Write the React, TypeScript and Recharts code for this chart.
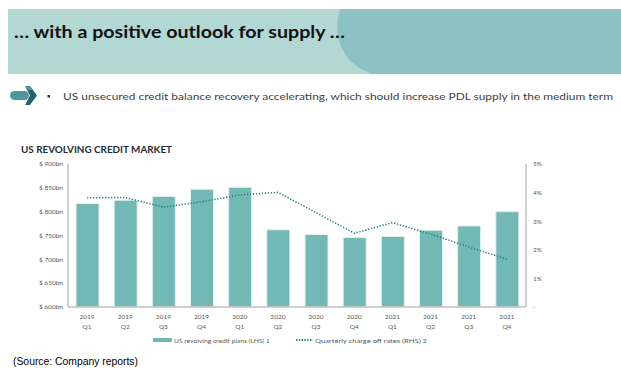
import React from 'react';
import { ComposedChart, Bar, Line, XAxis, YAxis } from 'recharts';

const years = ['2019', '2019', '2019', '2019', '2020', '2020', '2020', '2020', '2021', '2021', '2021', '2021'];
const quarters = ['Q1', 'Q2', 'Q3', 'Q4', 'Q1', 'Q2', 'Q3', 'Q4', 'Q1', 'Q2', 'Q3', 'Q4'];
const creditBalances = [817, 824, 832, 847, 851, 762, 752, 746, 748, 761, 770, 800];
const chargeOffRates = [3.82, 3.83, 3.49, 3.68, 3.92, 4.01, 3.3, 2.58, 2.95, 2.55, 2.1, 1.67];
const leftTicks = [600, 650, 700, 750, 800, 850, 900];
const rightTicks = [0, 1, 2, 3, 4, 5];

const data = years.map((y, i) => ({
  label: `${y} ${quarters[i]}`,
  balance: creditBalances[i],
  rate: chargeOffRates[i],
}));

const FONT = 'Lato, "DejaVu Sans", sans-serif';
const BAR = '#72b8b5';
const LINE = '#2e7f80';
const AXIS = '#bfbfbf';
const TICK = '#595959';

const XTick = (props: any) => {
  const { x, y, payload } = props;
  const [yr, q] = String(payload.value).split(' ');
  return (
    <g>
      <text x={x} y={y + 12} textAnchor="middle" fontSize={6.5} fill={TICK} fontFamily={FONT}>{yr}</text>
      <text x={x} y={y + 22} textAnchor="middle" fontSize={6.5} fill={TICK} fontFamily={FONT}>{q}</text>
    </g>
  );
};

export default function App() {
  return (
    <div style={{ position: 'absolute', left: 0, top: 0, width: 621, height: 370, background: '#fff', overflow: 'hidden' }}>
      <svg width={621} height={370} style={{ position: 'absolute', left: 0, top: 0 }}>
        <rect x={8} y={9} width={613} height={65} fill="#b3d7d3" />
        <path d="M 621 9 L 340.5 9 A 48.7 48.7 0 0 0 373 74 L 621 74 Z" fill="#8cc3c2" />
        <text x={14} y={38} fontSize={17} fontWeight={700} fill="#111" fontFamily={FONT} textLength={331} lengthAdjust="spacingAndGlyphs">… with a positive outlook for supply …</text>
        {/* arrow icon */}
        <rect x={10} y={91} width={19} height={9} rx={4.5} fill="#4f979d" />
        <path d="M 25 86 L 30 86 L 37 95.5 L 30 105 L 25 105 L 30 95.5 Z" fill="#22646e" />
        <path d="M 25 86 L 30 86 L 33 90 L 28 90 Z" fill="#4f979d" />
        <rect x={47.5} y={95} width={2.5} height={2.5} fill="#333" />
        <text x={63} y={100} fontSize={10} fill="#404040" fontFamily={FONT} textLength={550} lengthAdjust="spacingAndGlyphs">US unsecured credit balance recovery accelerating, which should increase PDL supply in the medium term</text>
        <text x={21} y={153} fontSize={9.5} fontWeight={700} fill="#1d2b3a" fontFamily={FONT} textLength={151} lengthAdjust="spacingAndGlyphs">US REVOLVING CREDIT MARKET</text>
        {/* legend */}
        <rect x={153} y={338} width={19} height={4} fill={BAR} />
        <text x={174} y={342.5} fontSize={6.5} fill={TICK} fontFamily={FONT} textLength={96} lengthAdjust="spacingAndGlyphs">US revolving credit plans (LHS) 1</text>
        <line x1={296} y1={340} x2={313} y2={340} stroke={LINE} strokeWidth={2} strokeDasharray="1.4 1.4" />
        <text x={315} y={342.5} fontSize={6.5} fill={TICK} fontFamily={FONT} textLength={112} lengthAdjust="spacingAndGlyphs">Quarterly charge off rates (RHS) 2</text>
        <text x={13} y={365} fontSize={10.5} fill="#000" fontFamily='"Liberation Sans", sans-serif' textLength={125} lengthAdjust="spacingAndGlyphs">(Source: Company reports)</text>
      </svg>
      <div style={{ position: 'absolute', left: 0, top: 0 }}>
        <ComposedChart width={621} height={370} data={data} margin={{ top: 164, right: 55, left: 8, bottom: 33 }}>
          <XAxis dataKey="label" tick={<XTick />} tickLine={false} tickSize={0} tickMargin={0} axisLine={{ stroke: AXIS, strokeWidth: 1.5 }} height={30} interval={0} />
          <YAxis yAxisId="left" type="number" domain={[600, 900]} ticks={leftTicks} allowDataOverflow width={60}
            tickFormatter={(v: number) => `$ ${v}bn`} tickLine={false} tickSize={0} tickMargin={5}
            axisLine={{ stroke: AXIS, strokeWidth: 1.5 }} tick={{ fontSize: 6.5, fill: TICK, fontFamily: FONT }} />
          <YAxis yAxisId="right" orientation="right" type="number" domain={[0, 5]} ticks={rightTicks} width={40}
            tickFormatter={(v: number) => (v === 0 ? '-' : `${v}%`)} tickLine={false} tickSize={0} tickMargin={7}
            axisLine={{ stroke: AXIS, strokeWidth: 1.5 }} tick={{ fontSize: 6.5, fill: TICK, fontFamily: FONT }} />
          <Bar yAxisId="left" dataKey="balance" fill={BAR} stroke="#e3f1f0" strokeWidth={1} barSize={23} isAnimationActive={false} />
          <Line yAxisId="right" dataKey="rate" type="linear" stroke={LINE} strokeWidth={1.6} strokeDasharray="1.3 1.7" dot={false} activeDot={false} isAnimationActive={false} />
        </ComposedChart>
      </div>
    </div>
  );
}
